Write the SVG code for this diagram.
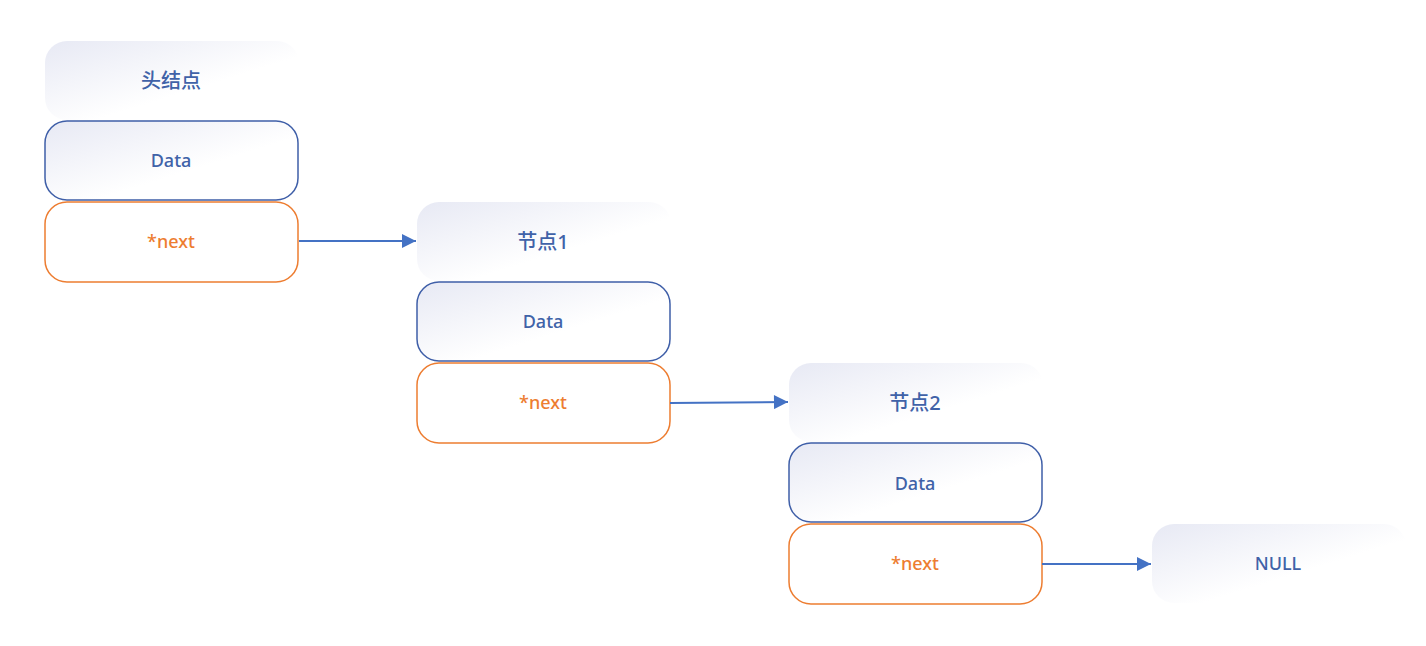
<svg xmlns="http://www.w3.org/2000/svg" width="1426" height="646" viewBox="0 0 1426 646">
<defs>
<linearGradient id="g" x1="0" y1="0" x2="1" y2="1">
<stop offset="0" stop-color="#e7e9f4"/>
<stop offset="0.6" stop-color="#ffffff"/>
</linearGradient>
<marker id="arr" viewBox="0 0 10 10" refX="10" refY="5" markerWidth="16" markerHeight="14" markerUnits="userSpaceOnUse" orient="auto">
<path d="M0,0 L10,5 L0,10 z" fill="#4472c4"/>
</marker>
<style>
.lbl{fill:url(#g);stroke:none}
.data{fill:url(#g);stroke:#3f5fa8;stroke-width:1.5}
.nxt{fill:#ffffff;stroke:#ed7d31;stroke-width:1.5}
text{font-family:"Noto Sans","Noto Sans CJK SC",sans-serif;font-weight:500;font-size:18px;text-anchor:middle;dominant-baseline:central}
.t{fill:#4062a8}
.o{fill:#ed7d31}
.c{font-size:20px}
.e{stroke:#4472c4;stroke-width:2;fill:none;marker-end:url(#arr)}
</style>
</defs>
<rect width="1426" height="646" fill="#ffffff"/>
<g id="head">
<rect class="lbl" x="45" y="41" width="254" height="79" rx="22"/>
<text class="t c" x="171" y="80">头结点</text>
<rect class="data" x="45" y="121" width="253" height="79" rx="22"/>
<text class="t" x="171" y="160">Data</text>
<rect class="nxt" x="45" y="202" width="253" height="80" rx="22"/>
<text class="o" x="171" y="241">*next</text>
</g>
<g id="node1">
<rect class="lbl" x="417" y="202" width="254" height="79" rx="22"/>
<text class="t c" x="543" y="241">节点1</text>
<rect class="data" x="417" y="282" width="253" height="79" rx="22"/>
<text class="t" x="543" y="321">Data</text>
<rect class="nxt" x="417" y="363" width="253" height="80" rx="22"/>
<text class="o" x="543" y="402">*next</text>
</g>
<g id="node2">
<rect class="lbl" x="789" y="363" width="254" height="79" rx="22"/>
<text class="t c" x="915" y="402">节点2</text>
<rect class="data" x="789" y="443" width="253" height="79" rx="22"/>
<text class="t" x="915" y="483">Data</text>
<rect class="nxt" x="789" y="524" width="253" height="80" rx="22"/>
<text class="o" x="915" y="563">*next</text>
</g>
<g id="null">
<rect class="lbl" x="1152" y="524" width="254" height="79" rx="22"/>
<text class="t" x="1278" y="563">NULL</text>
</g>
<g id="connectors">
<path class="e" d="M299,241 L416,241"/>
<path class="e" d="M670,403 L788,402"/>
<path class="e" d="M1042,564 L1151,564"/>
</g>
</svg>
